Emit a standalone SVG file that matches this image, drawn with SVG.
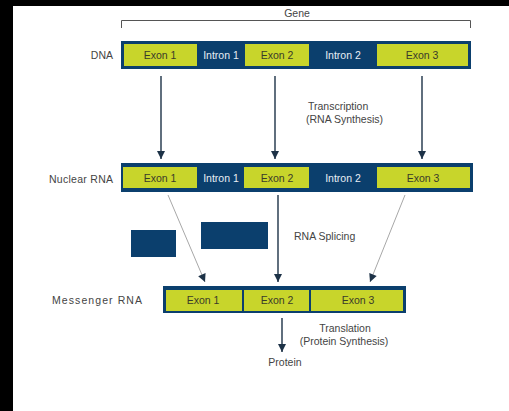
<svg xmlns="http://www.w3.org/2000/svg" width="509" height="411" viewBox="0 0 509 411">
<defs>
<style>
.lbl{font-family:"Liberation Sans",Arial,sans-serif;font-size:10.5px;fill:#444}
.ex{font-family:"Liberation Sans",Arial,sans-serif;font-size:10.5px;fill:#3a3a2a;text-anchor:middle;dominant-baseline:central}
.in{font-family:"Liberation Sans",Arial,sans-serif;font-size:10.5px;fill:#e8eef5;text-anchor:middle;dominant-baseline:central}
.dark{fill:#0b3f6d}
.yel{fill:#c8d52b}
.arr{stroke:#1d3247;stroke-width:1.4;fill:none}
.thin{stroke:#a8a8a8;stroke-width:1;fill:none}
</style>
<marker id="ah" viewBox="0 0 10 10" refX="10" refY="5" markerWidth="10" markerHeight="8" markerUnits="userSpaceOnUse" orient="auto">
<path d="M0,0 L10,5 L0,10 z" fill="#1d3247"/>
</marker>
</defs>
<rect x="0" y="0" width="509" height="411" fill="#000"/>
<rect x="13" y="6" width="496" height="405" fill="#fff"/>

<g id="gene">
<path d="M121.5,28 V20.5 H470.5 V28" stroke="#555" stroke-width="1" fill="none"/>
<text class="lbl" x="297" y="17" text-anchor="middle" font-size="9.5">Gene</text>
</g>

<g id="dna">
<text class="lbl" x="113" y="55" text-anchor="end" dominant-baseline="central">DNA</text>
<rect class="dark" x="121" y="41" width="350" height="28"/>
<rect class="yel" x="124" y="44" width="73" height="22"/>
<rect class="yel" x="245" y="44" width="64" height="22"/>
<rect class="yel" x="377" y="44" width="91" height="22"/>
<text class="ex" x="160" y="55">Exon 1</text>
<text class="in" x="221" y="55">Intron 1</text>
<text class="ex" x="277" y="55">Exon 2</text>
<text class="in" x="343" y="55">Intron 2</text>
<text class="ex" x="422" y="55">Exon 3</text>
</g>

<g id="nuclear">
<text class="lbl" x="49" y="179" dominant-baseline="central" textLength="64">Nuclear RNA</text>
<rect class="dark" x="121" y="163" width="352" height="29"/>
<rect class="yel" x="123" y="167" width="74" height="21"/>
<rect class="yel" x="244" y="167" width="65" height="21"/>
<rect class="yel" x="377" y="167" width="93" height="21"/>
<text class="ex" x="160" y="178">Exon 1</text>
<text class="in" x="221" y="178">Intron 1</text>
<text class="ex" x="277" y="178">Exon 2</text>
<text class="in" x="343" y="178">Intron 2</text>
<text class="ex" x="423" y="178">Exon 3</text>
</g>

<g id="removed">
<rect class="dark" x="131" y="230" width="45" height="27"/>
<rect class="dark" x="201" y="222" width="67" height="27"/>
</g>

<g id="messenger">
<text class="lbl" x="52" y="300" dominant-baseline="central" textLength="90">Messenger RNA</text>
<rect class="dark" x="163" y="286" width="243" height="27"/>
<rect class="yel" x="166" y="290" width="76" height="21"/>
<rect class="yel" x="244" y="290" width="65" height="21"/>
<rect class="yel" x="311" y="290" width="92" height="21"/>
<text class="ex" x="203" y="300">Exon 1</text>
<text class="ex" x="277" y="300">Exon 2</text>
<text class="ex" x="358" y="300">Exon 3</text>
</g>

<g id="protein">
<text class="lbl" x="285" y="366" text-anchor="middle" font-size="9.5">Protein</text>
</g>

<g id="labels">
<text class="lbl" x="308" y="110" font-size="9.5">Transcription</text>
<text class="lbl" x="306" y="123" font-size="9.5">(RNA Synthesis)</text>
<text class="lbl" x="294" y="240" font-size="9.5">RNA Splicing</text>
<text class="lbl" x="345" y="332" text-anchor="middle" font-size="9.5">Translation</text>
<text class="lbl" x="344" y="345" text-anchor="middle" font-size="9.5">(Protein Synthesis)</text>
</g>

<g id="connectors">
<line class="arr" x1="161" y1="76" x2="161" y2="159" marker-end="url(#ah)"/>
<line class="arr" x1="275" y1="76" x2="275" y2="159" marker-end="url(#ah)"/>
<line class="arr" x1="422" y1="76" x2="422" y2="159" marker-end="url(#ah)"/>
<line class="thin" x1="168" y1="195" x2="205" y2="282" marker-end="url(#ah)"/>
<line class="arr" x1="278" y1="195" x2="278" y2="282" marker-end="url(#ah)"/>
<line class="thin" x1="405" y1="195" x2="370" y2="282" marker-end="url(#ah)"/>
<line class="arr" x1="282" y1="318" x2="282" y2="352" marker-end="url(#ah)"/>
</g>
</svg>
